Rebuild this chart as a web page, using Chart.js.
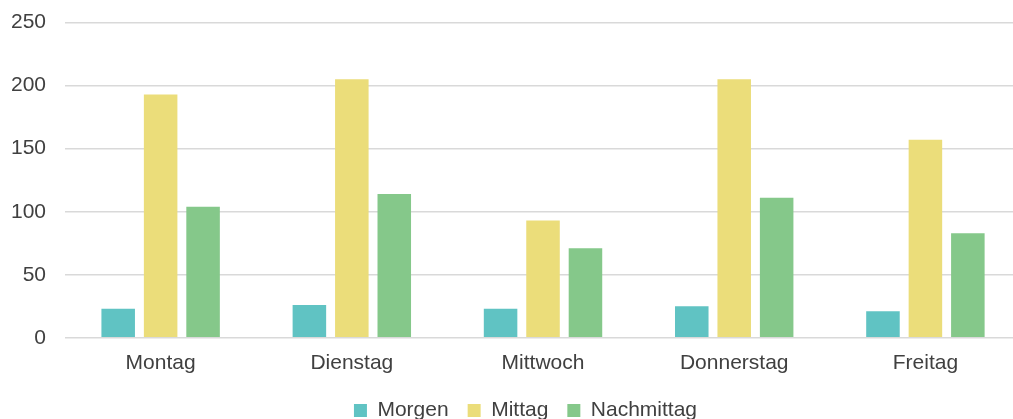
<!DOCTYPE html>
<html>
<head>
<meta charset="utf-8">
<script src="https://cdn.jsdelivr.net/npm/chart.js@4/dist/chart.umd.min.js"></script>
<style>
  html, body { margin: 0; padding: 0; background: #fff; overflow: hidden; }
  #frame { width: 1013px; height: 419px; position: relative; overflow: hidden; }
  #wrap { position: absolute; left: -8px; top: -9px; width: 1029px; height: 440px; }
</style>
</head>
<body>
<div id="frame"><div id="wrap"><canvas id="chart"></canvas></div></div>
<script>
// Data
const days = ["Montag", "Dienstag", "Mittwoch", "Donnerstag", "Freitag"]
const morgen = [23, 26, 23, 25, 21]
const mittag = [193, 205, 93, 205, 157]
const nachmittag = [104, 114, 71, 111, 83]
const yTicks = [0, 50, 100, 150, 200, 250]

Chart.defaults.font.family = "'Liberation Sans', Arial, sans-serif"
Chart.defaults.font.size = 21
Chart.defaults.color = "#595959"

// legend sits a bit right of centre in the original
const legendShift = {
  id: "legendShift",
  afterLayout(chart) {
    chart.legend.left += 19
    chart.legend.right += 19
  }
}

const ctx = document.getElementById("chart")
new Chart(ctx, {
  type: "bar",
  data: {
    labels: days,
    datasets: [
      { label: "Morgen", data: morgen, backgroundColor: "#60c3c3" },
      { label: "Mittag", data: mittag, backgroundColor: "#ebdd7a" },
      { label: "Nachmittag", data: nachmittag, backgroundColor: "#85c88a" }
    ]
  },
  plugins: [legendShift],
  options: {
    responsive: true,
    maintainAspectRatio: false,
    animation: false,
    categoryPercentage: 0.666,
    barPercentage: 0.79,
    layout: { padding: 0 },
    plugins: {
      tooltip: { enabled: false },
      legend: {
        position: "bottom",
        labels: { boxWidth: 13, boxHeight: 13, padding: 19, font: { size: 21 }, color: "#404040" }
      }
    },
    scales: {
      x: {
        grid: { display: false },
        border: { display: false },
        ticks: { padding: 5, color: "#404040" }
      },
      y: {
        min: 0,
        max: yTicks[yTicks.length - 1],
        afterBuildTicks: axis => { axis.ticks = yTicks.map(v => ({ value: v })) },
        grid: { color: "#d9d9d9", lineWidth: 1.5, drawTicks: false },
        border: { display: false },
        ticks: { padding: 19, color: "#404040" }
      }
    }
  }
})
</script>
</body>
</html>
